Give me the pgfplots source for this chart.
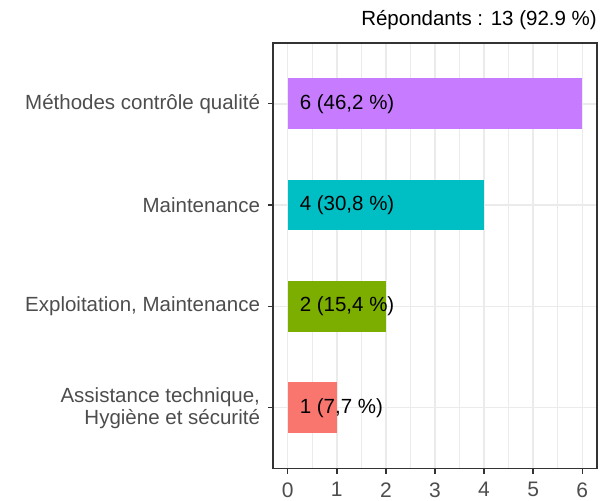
\documentclass[border=0pt]{standalone}
\usepackage{pgfplots}
\pgfplotsset{compat=1.18}
\usepackage{fontspec}
\setmainfont{Liberation Sans}
\definecolor{cpurple}{HTML}{C77CFF}
\definecolor{cteal}{HTML}{00BFC4}
\definecolor{cgreen}{HTML}{7CAE00}
\definecolor{cred}{HTML}{F8766D}
\definecolor{gridc}{HTML}{EBEBEB}
\definecolor{axc}{HTML}{333333}
\definecolor{labc}{HTML}{4D4D4D}
\begin{document}
\begin{tikzpicture}
\fontsize{20.5bp}{24bp}\selectfont
\begin{axis}[
  at={(273bp,32.5bp)}, anchor=south west,
  scale only axis, width=324bp, height=425.5bp,
  xmin=-0.3, xmax=6.3, ymin=0.4, ymax=4.6,
  xtick={0,1,2,3,4,5,6},
  minor x tick num=1,
  ytick={1,2,3,4},
  yticklabels={{Assistance technique,\\Hygiène et sécurité},{Exploitation, Maintenance},{Maintenance},{Méthodes contrôle qualité}},
  yticklabel style={align=right, text=labc, font=\fontsize{20.5bp}{22bp}\selectfont, xshift=-1bp},
  xticklabel style={text=labc, font=\fontsize{21bp}{24bp}\selectfont, yshift=-2bp},
  /pgf/number format/assume math mode=true,
  tick align=outside, xtick pos=bottom, ytick pos=left,
  major tick length=5bp, minor tick length=0pt,
  tick style={axc, line width=1.4bp},
  xmajorgrids, xminorgrids, ymajorgrids,
  major grid style={gridc, line width=1.5bp},
  minor grid style={gridc, line width=0.8bp},
  axis line style={axc, line width=1.6bp},
  clip=false,
]
\addplot[xbar, bar width=0.5, bar shift=0pt, fill=cred, draw=none] coordinates {(1,1)};
\addplot[xbar, bar width=0.5, bar shift=0pt, fill=cgreen, draw=none] coordinates {(2,2)};
\addplot[xbar, bar width=0.5, bar shift=0pt, fill=cteal, draw=none] coordinates {(4,3)};
\addplot[xbar, bar width=0.5, bar shift=0pt, fill=cpurple, draw=none] coordinates {(6,4)};
\addplot[draw=none, mark=none, point meta=explicit symbolic,
  nodes near coords,
  every node near coord/.style={anchor=west, xshift=5bp, text=black, font=\fontsize{20.5bp}{24bp}\selectfont}]
  coordinates {(0,1) [1 (7,7 \%)] (0,2) [2 (15,4 \%)] (0,3) [4 (30,8 \%)] (0,4) [6 (46,2 \%)]};
\node[anchor=base east, inner sep=0pt, font=\fontsize{20.5bp}{24bp}\selectfont] at ([yshift=17bp]rel axis cs:1,1) {Répondants : 13 (92.9 \%)};
\end{axis}
\pgfresetboundingbox
\path[use as bounding box] (0,0) rectangle (616bp,501bp);
\end{tikzpicture}
\end{document}
